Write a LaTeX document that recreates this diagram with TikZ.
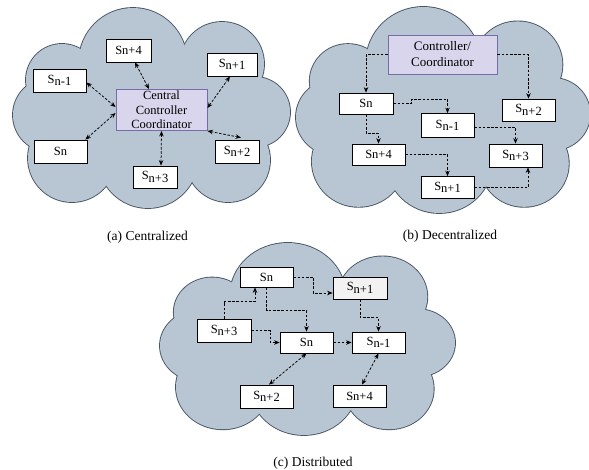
\documentclass[tikz,border=0pt]{standalone}
\usepackage{fontspec}
\setmainfont{Liberation Serif}
\usetikzlibrary{arrows.meta}
\definecolor{cloudfill}{RGB}{184,198,211}
\definecolor{cloudedge}{RGB}{70,84,100}
\definecolor{ctrlfill}{RGB}{217,213,236}
\definecolor{ctrledge}{RGB}{118,108,168}
\definecolor{greyfill}{RGB}{242,242,242}
\newcommand{\Sx}[1]{S\raisebox{-2.5pt}{#1}}
\newcommand{\drawcloud}[4]{%
  \begin{scope}[shift={(#1,#2)},xscale=#3,yscale=#4]
    \foreach \cx/\cy/\r in {120/54/54, 49/72/36, 37/107/37, 59/150/44, 135/150/50, 215/152/42, 242/104/35, 209/56/42}
      {\draw[cloudedge, line width=1.8pt] (\cx,\cy) circle[radius=\r];}
    \foreach \cx/\cy/\r in {120/54/54, 49/72/36, 37/107/37, 59/150/44, 135/150/50, 215/152/42, 242/104/35, 209/56/42}
      {\fill[cloudfill] (\cx,\cy) circle[radius=\r];}
    \fill[cloudfill] (120,54) -- (209,56) -- (242,104) -- (215,152) -- (135,150) -- (59,150) -- (37,107) -- (49,72) -- cycle;
  \end{scope}}
\tikzset{
  sbox/.style={draw=black, fill=white, line width=0.8pt, minimum width=53pt, minimum height=22pt, inner sep=0pt, font=\fontsize{12.5}{14}\selectfont},
  ctrlbox/.style={draw=ctrledge, fill=ctrlfill, line width=0.9pt, inner sep=0pt, align=center},
  onearrow/.style={line width=0.75pt, dash pattern=on 2.6pt off 1.6pt, -{Stealth[length=5.5pt,width=4.5pt]}},
  twoarrow/.style={line width=0.75pt, dash pattern=on 2.6pt off 1.6pt, {Stealth[length=5.5pt,width=4.5pt]}-{Stealth[length=5.5pt,width=4.5pt]}},
  caption/.style={font=\fontsize{13.5}{15}\selectfont, inner sep=0pt}
}
\begin{document}
\begin{tikzpicture}[x=1pt,y=-1pt]
\fill[white] (0,0) rectangle (589,469);
\useasboundingbox (0,0) rectangle (589,469);

% clouds
\drawcloud{13}{8}{1}{1}
\drawcloud{296}{7}{1.0614}{1.03}
\drawcloud{160}{243}{1.065}{0.96}

% ---------- (a) Centralized ----------
\node[sbox, minimum width=45pt, minimum height=23pt] (a4) at (128.5,50.5) {Sn+4};
\node[sbox, minimum width=50pt, minimum height=23pt] (a1) at (232,64.5) {\Sx{n+1}};
\node[sbox, minimum height=23pt] (am1) at (59.5,80.5) {\Sx{n-1}};
\node[ctrlbox, minimum width=91pt, minimum height=41pt, font=\fontsize{12.5}{14.5}\selectfont] (ac) at (161.5,110) {Central\\Controller\\Coordinator};
\node[sbox, minimum height=23pt] (an) at (60.5,151.5) {Sn};
\node[sbox, minimum width=44pt, minimum height=23pt] (a2) at (237,151.5) {\Sx{n+2}};
\node[sbox, minimum width=44pt] (a3) at (155,177) {\Sx{n+3}};

\draw[twoarrow] ([xshift=6.5pt]a4.south) -- ([xshift=-12.5pt]ac.north);
\draw[twoarrow] ([xshift=-2pt]a1.south) -- ([yshift=2pt]ac.east);
\draw[twoarrow] ([yshift=-2pt]am1.east) -- ([yshift=3pt]ac.west);
\draw[twoarrow] ([xshift=-2pt]an.north east) -- ([yshift=-3pt]ac.west);
\draw[twoarrow] (ac.south east) -- ([xshift=4pt,yshift=2pt]a2.north);
\draw[twoarrow] (ac.south) -- ([xshift=6pt]a3.north);

\node[caption] (capa) at (147.5,237) {(a) Centralized};

% ---------- (b) Decentralized ----------
\node[ctrlbox, minimum width=109pt, minimum height=39pt, font=\fontsize{13}{16}\selectfont] (bc) at (442.5,54.5) {Controller/\\Coordinator};
\node[sbox, minimum width=54pt, minimum height=21pt] (bn) at (366,103.5) {Sn};
\node[sbox] (b2) at (528.5,110) {\Sx{n+2}};
\node[sbox, minimum height=24pt] (bm1) at (447.5,125.5) {\Sx{n-1}};
\node[sbox, minimum height=21pt] (b4) at (378.5,154.5) {Sn+4};
\node[sbox, minimum height=23pt] (b3) at (515.5,155.5) {\Sx{n+3}};
\node[sbox] (b1) at (447.5,187.5) {\Sx{n+1}};

\draw[onearrow] (bc.west) -| (bn.north);
\draw[onearrow] (bc.east) -| (b2.north);
\draw[onearrow] (bn.east) -- ++(18,0) -- ++(0,-4.5) -| (bm1.north);
\draw[onearrow] (bn.south) -- ++(0,19) -| (b4.north);
\draw[onearrow] ([yshift=-2pt]bm1.east) -| (b3.north);
\draw[onearrow] (b4.east) -| (b1.north);
\draw[onearrow] (b1.east) -| ([xshift=12.5pt]b3.south);

\node[caption] (capb) at (450,236) {(b) Decentralized};

% ---------- (c) Distributed ----------
\node[sbox, minimum height=20pt] (cn1) at (266.5,277) {Sn};
\node[sbox, fill=greyfill, minimum width=54pt] (cp1) at (360,288) {\Sx{n+1}};
\node[sbox, minimum width=54pt, minimum height=23pt] (cp3) at (224,330.5) {\Sx{n+3}};
\node[sbox, minimum height=21pt] (cn2) at (306.5,342.5) {Sn};
\node[sbox, minimum height=21pt] (cm1) at (378.5,342.5) {\Sx{n-1}};
\node[sbox, minimum height=23pt] (cp2) at (266.5,396.5) {\Sx{n+2}};
\node[sbox] (cp4) at (359.5,396) {Sn+4};

\draw[onearrow] (cn1.east) -- ++(20,0) |- ([yshift=-5pt]cp1.west);
\draw[onearrow] (cn1.south) -- ++(0,23) -| (cn2.north);
\draw[onearrow] (cp3.north) -- ++(0,-17) -| ([xshift=-11.5pt]cn1.south);
\draw[onearrow] (cp3.east) -- ++(19,0) |- (cn2.west);
\draw[onearrow] (cn2.east) -- (cm1.west);
\draw[onearrow] (cp1.south) -- ++(0,18) -| (cm1.north);
\draw[twoarrow] (cn2.south) -- ([xshift=2.5pt]cp2.north);
\draw[twoarrow] (cm1.south) -- ([xshift=2.5pt]cp4.north);

\node[caption] (capc) at (313,463) {(c) Distributed};
\end{tikzpicture}
\end{document}
